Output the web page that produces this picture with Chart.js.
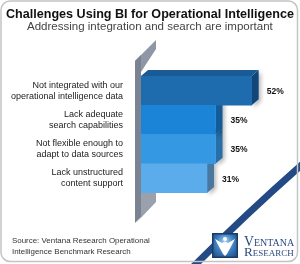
<!DOCTYPE html>
<html><head><meta charset="utf-8">
<script src="https://cdn.jsdelivr.net/npm/chart.js@4.4.1/dist/chart.umd.min.js"></script>
<style>
html,body{margin:0;padding:0;background:#fff;}
#wrap{position:relative;width:300px;height:264px;overflow:hidden;background:#fff;}
#c{position:absolute;left:0;top:0;}
.t{position:absolute;white-space:nowrap;line-height:1;font-family:"Liberation Sans",Arial,sans-serif;}
#title{font-weight:bold;color:#111;font-size:12.6px;left:6px;top:8px;}
#sub{color:#444;font-size:10.5px;left:27px;top:21px;}
.src{color:#333;font-size:9px;left:12px;}
.logo{font-family:"Liberation Serif","DejaVu Serif",serif;font-variant:small-caps;color:#2a4a7f;font-size:12px;left:244px;}
</style></head><body>
<div id="wrap">
<canvas id="c" width="300" height="264"></canvas>
<div class="t" id="title">Challenges Using BI for Operational Intelligence</div>
<div class="t" id="sub">Addressing integration and search are important</div>
<div class="t src" id="src1" style="top:237px">Source: Ventana Research Operational</div>
<div class="t src" id="src2" style="top:248px">Intelligence Benchmark Research</div>
<div class="t logo" id="lg1" style="top:235px">Ventana</div>
<div class="t logo" id="lg2" style="top:245px">Research</div>
</div>
<script>
// ---- data ----
const categories = [
  ["Not integrated with our", "operational intelligence data"],
  ["Lack adequate", "search capabilities"],
  ["Not flexible enough to", "adapt to data sources"],
  ["Lack unstructured", "content support"]
];
const values = [52, 35, 35, 31];
const valueLabels = ["52%", "35%", "35%", "31%"];

// ---- styles ----
const frontColors = ['#1e6cae', '#1b84d6', '#3598e2', '#5aaceb'];
const topColors   = ['#1a5a95', '#176fb3', '#2b80c2', '#4b93c9'];
const sideColors  = ['#12467a', '#135c97', '#276fa8', '#48789f'];
const DX = 7, DY = -6;

function fit(id, w) {
  const el = document.getElementById(id);
  const fs = parseFloat(getComputedStyle(el).fontSize);
  const cw = el.getBoundingClientRect().width;
  el.style.fontSize = (fs * w / cw) + 'px';
}
fit('title', 288); fit('sub', 246); fit('src1', 138); fit('src2', 119);
fit('lg1', 47); fit('lg2', 49);

function poly(ctx, pts, fill) {
  ctx.beginPath();
  ctx.moveTo(pts[0][0], pts[0][1]);
  for (let i = 1; i < pts.length; i++) ctx.lineTo(pts[i][0], pts[i][1]);
  ctx.closePath();
  ctx.fillStyle = fill;
  ctx.fill();
}

const decor = {
  id: 'decor',
  beforeDatasetsDraw(chart) {
    const ctx = chart.ctx, a = chart.chartArea;
    const L = a.left, T = a.top, B = a.bottom;
    ctx.save();
    // swoosh
    ctx.beginPath();
    ctx.moveTo(305, 162);
    ctx.quadraticCurveTo(247, 213, 192, 268);
    ctx.strokeStyle = '#234a84';
    ctx.lineWidth = 7;
    ctx.stroke();
    // wall
    poly(ctx, [[L - 6, T - 15], [L + 15, T - 36], [L + 15, T - 27], [L, T - 4]], '#8f97a4');
    poly(ctx, [[L, B], [L + 15, B], [L + 15, B + 9], [L - 5, B + 30], [L, B + 24]], '#9aa1ad');
    poly(ctx, [[L - 6, T - 15], [L, T - 21], [L, B + 24], [L - 6, B + 30]], '#7b8392');
    // 3D faces, bottom bar first
    const meta = chart.getDatasetMeta(0);
    for (let i = meta.data.length - 1; i >= 0; i--) {
      const p = meta.data[i].getProps(['x', 'y', 'base', 'height'], true);
      const left = p.base, right = p.x, top = p.y - p.height / 2, bot = p.y + p.height / 2;
      ctx.save();
      ctx.shadowColor = 'rgba(0,0,0,0.3)';
      ctx.shadowBlur = 4; ctx.shadowOffsetX = 2; ctx.shadowOffsetY = 2;
      poly(ctx, [[right, top], [right + DX, top + DY], [right + DX, bot + DY], [right, bot]], sideColors[i]);
      ctx.restore();
      poly(ctx, [[left, top], [left + DX, top + DY], [right + DX, top + DY], [right, top]], topColors[i]);
    }
    ctx.restore();
  },
  afterDatasetsDraw(chart) {
    const ctx = chart.ctx;
    const meta = chart.getDatasetMeta(0);
    ctx.save();
    ctx.font = 'bold 8.5px "Liberation Sans", Arial, sans-serif';
    ctx.fillStyle = '#111';
    ctx.textAlign = 'left';
    ctx.textBaseline = 'middle';
    meta.data.forEach((el, i) => {
      const p = el.getProps(['x', 'y'], true);
      ctx.fillText(valueLabels[i], p.x + 15, p.y + 1);
    });
    ctx.restore();
  },
  afterDraw(chart) {
    const ctx = chart.ctx;
    ctx.save();
    // logo box
    const x = 212, y = 233, w = 26, h = 25;
    ctx.fillStyle = '#1b3b66';
    ctx.fillRect(x, y, w, h);
    const g = ctx.createRadialGradient(x + 13, y + 8, 2, x + 13, y + 12, 16);
    g.addColorStop(0, '#8cc0ea');
    g.addColorStop(0.5, '#3f7fbf');
    g.addColorStop(1, '#1c4f86');
    ctx.fillStyle = g;
    ctx.fillRect(x + 1.5, y + 1.5, w - 3, h - 3);
    poly(ctx, [[x + 3, y + 6], [x + 10, y + 10], [x + 13, y + 8.5], [x + 16, y + 10], [x + 23, y + 6],
               [x + 15, y + 21], [x + 13, y + 23], [x + 11, y + 21]], '#ffffff');
    ctx.beginPath(); ctx.arc(x + 13, y + 6, 2, 0, Math.PI * 2); ctx.fillStyle = '#fff'; ctx.fill();
    // border
    ctx.beginPath();
    ctx.roundRect(1, 1, 296.5, 260.5, 9);
    ctx.strokeStyle = '#c4c4c4';
    ctx.lineWidth = 1.5;
    ctx.stroke();
    ctx.restore();
  }
};

new Chart(document.getElementById('c'), {
  type: 'bar',
  data: {
    labels: categories,
    datasets: [{
      data: values,
      backgroundColor: frontColors,
      borderWidth: 0,
      barPercentage: 1,
      categoryPercentage: 1
    }]
  },
  options: {
    indexAxis: 'y',
    responsive: false,
    animation: false,
    devicePixelRatio: 1,
    layout: { padding: { left: 0, right: 10, top: 76, bottom: 71 } },
    scales: {
      x: { display: false, min: 0, max: 70 },
      y: {
        position: 'left',
        grid: { display: false, drawTicks: false },
        border: { display: false },
        ticks: {
          color: '#222',
          padding: 18,
          font: { family: '"Liberation Sans", Arial, sans-serif', size: 9, lineHeight: 1.2 }
        },
        afterFit(s) { s.width = 141; }
      }
    },
    plugins: { legend: { display: false }, tooltip: { enabled: false } }
  },
  plugins: [decor]
});
</script>
</body></html>
